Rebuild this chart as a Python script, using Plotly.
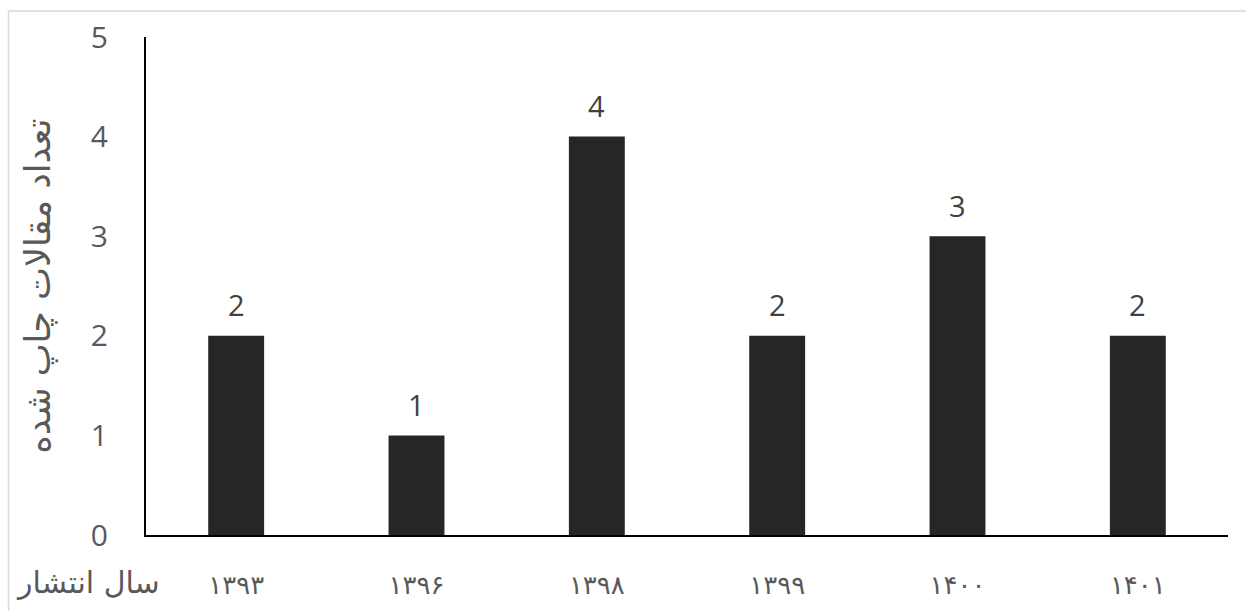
import plotly.graph_objects as go

years = ["۱۳۹۳", "۱۳۹۶", "۱۳۹۸", "۱۳۹۹", "۱۴۰۰", "۱۴۰۱"]
counts = [2, 1, 4, 2, 3, 2]
y_ticks = [0, 1, 2, 3, 4, 5]
y_title = "تعداد مقالات چاپ شده"
x_title = "سال انتشار"

W, H = 1246, 611
L, R, T, B = 146, 18, 37, 76
pw, ph = W - L - R, H - T - B

def px_x(px):
    return (px - L) / pw

def px_y(py):
    return (H - B - py) / ph

font_fam = "Open Sans, DejaVu Sans, sans-serif"

fig = go.Figure(go.Bar(
    x=years, y=counts,
    marker=dict(color="#262626", line=dict(width=0)),
    width=0.31,
    cliponaxis=False,
))

for yr, c in zip(years, counts):
    fig.add_annotation(
        x=yr, y=c, text=str(c), showarrow=False,
        xanchor="center", yanchor="middle", yshift=31,
        font=dict(size=29, color="#404040", family=font_fam),
    )

fig.update_layout(
    width=W, height=H,
    margin=dict(l=L, r=R, t=T, b=B),
    paper_bgcolor="white", plot_bgcolor="white",
    showlegend=False,
    font=dict(family=font_fam, color="#595959"),
)
fig.update_xaxes(
    showline=True, linecolor="black", linewidth=2,
    showgrid=False, zeroline=False, ticks="",
    tickfont=dict(size=26, color="#595959", family="DejaVu Sans, sans-serif"),
    ticklabelstandoff=26,
)
fig.update_yaxes(
    range=[0, 5], tickvals=y_ticks,
    showline=True, linecolor="black", linewidth=2,
    showgrid=False, zeroline=False, ticks="",
    tickfont=dict(size=30, color="#595959", family=font_fam),
    ticklabelstandoff=30,
    title=dict(text=y_title, font=dict(size=35, color="#595959", family="DejaVu Sans, sans-serif"), standoff=30),
)

fig.add_annotation(
    text=x_title, xref="paper", yref="paper",
    x=px_x(88), y=px_y(582), xanchor="center", yanchor="middle",
    showarrow=False,
    font=dict(size=30, color="#595959", family="DejaVu Sans, sans-serif"),
)

# outer chart border (light gray)
fig.add_shape(type="line", xref="paper", yref="paper",
              x0=px_x(8.5), x1=px_x(8.5), y0=px_y(11), y1=px_y(620),
              line=dict(color="#d9d9d9", width=1.5))
fig.add_shape(type="line", xref="paper", yref="paper",
              x0=px_x(8.5), x1=px_x(1260), y0=px_y(11), y1=px_y(11),
              line=dict(color="#d9d9d9", width=1.5))

fig.write_html("out.html")
